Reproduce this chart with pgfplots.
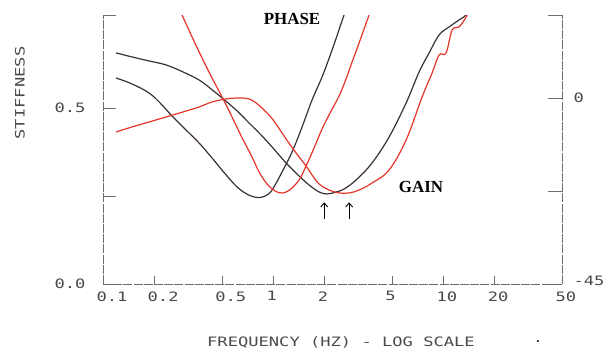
\documentclass[border=0pt]{standalone}
\usepackage{pgfplots}
\pgfplotsset{compat=1.18}
\usetikzlibrary{arrows.meta}
\usepackage{fontspec}
\setmainfont{Liberation Serif}
\newfontfamily\plotfont[FakeStretch=1.32]{DejaVu Sans Mono}
\definecolor{inkblack}{HTML}{3A3035}
\definecolor{inkred}{HTML}{E4352B}
\definecolor{axgray}{HTML}{6E6E6E}
\definecolor{labgray}{HTML}{4A4A4A}
\newcommand\pf{\plotfont\fontsize{13}{15}\selectfont\color{labgray}}
\begin{document}
\begin{tikzpicture}
% ---------- main axis: data, x ticks ----------
\begin{axis}[
  name=A,
  scale only axis, width=459bp, height=269bp,
  xmode=log, xmin=0.1, xmax=50, ymin=0, ymax=0.764,
  axis x line*=bottom, axis y line*=left,
  axis line style={axgray, line width=0.6bp, dash pattern=on 9bp off 1.2bp, -},
  xtick={0.1,0.2,0.5,1,2,5,10,20,50},
  xticklabels={0.1,0.2,0.5,1,2,5,10,20,50},
  ytick=\empty,
  tick align=inside,
  major tick length=8bp,
  tick style={axgray, line width=0.7bp},
  /pgf/number format/assume math mode=true,
  xticklabel style={font=\pf, anchor=north west, xshift=-10bp, yshift=-4bp},
  xlabel={FREQUENCY (HZ) - LOG SCALE},
  xlabel style={font=\pf, at={(axis description cs:0.5185,-0.2156)}, anchor=center},
  ylabel={STIFFNESS},
  ylabel style={font=\pf, at={(axis description cs:-0.181,0.71)}, anchor=center},
  clip=true,
]
\coordinate (SW) at (rel axis cs:0,0);
% black gain
\addplot[inkblack, line width=1.2bp, smooth, tension=0.6] coordinates {
(0.1193,0.6563)(0.1481,0.6449)(0.1865,0.6335)(0.2348,0.6222)(0.2955,0.6023)
(0.3671,0.5795)(0.4318,0.5540)(0.5012,0.5284)(0.6060,0.4943)(0.7225,0.4574)
(0.8500,0.4233)(0.9865,0.3892)(1.1925,0.3438)(1.4223,0.3068)(1.6284,0.2813)
(1.8649,0.2614)(2.0780,0.2557)(2.3481,0.2614)(2.6157,0.2699)(3.0782,0.2955)
(3.8220,0.3438)(4.8124,0.4176)(6.0589,0.5142)(7.2250,0.6023)(8.2730,0.6563)
(9.4730,0.7074)(10.846,0.7301)(12.418,0.7500)(13.656,0.7642)(14.2,0.785)};
% black phase
\addplot[inkblack, line width=1.2bp, smooth, tension=0.6] coordinates {
(0.1193,0.5852)(0.1481,0.5682)(0.1865,0.5426)(0.2194,0.5114)(0.2545,0.4773)
(0.3078,0.4375)(0.3671,0.4006)(0.4377,0.3580)(0.5120,0.3182)(0.6060,0.2784)
(0.7002,0.2557)(0.8053,0.2457)(0.9000,0.2500)(0.9865,0.2670)
(1.1297,0.3182)(1.2937,0.3750)(1.4812,0.4460)(1.6958,0.5227)(1.9420,0.5881)
(2.2243,0.6648)(2.6157,0.7642)(2.75,0.79)};
% red gain
\addplot[inkred, line width=1.2bp, smooth, tension=0.6] coordinates {
(0.1193,0.4318)(0.1481,0.4460)(0.1865,0.4602)(0.2348,0.4744)(0.2955,0.4886)
(0.3671,0.5028)(0.4377,0.5170)(0.5292,0.5256)(0.6310,0.5284)(0.7225,0.5256)
(0.7943,0.5142)(0.8852,0.4943)(0.9473,0.4801)(1.0415,0.4545)(1.1925,0.4119)
(1.3656,0.3722)(1.5637,0.3352)(1.6958,0.3097)(1.8649,0.2841)(2.1350,0.2670)
(2.4446,0.2585)(2.8000,0.2585)(3.2058,0.2670)(3.8220,0.2869)(4.8124,0.3239)
(6.0589,0.4091)(7.5240,0.5313)(8.6170,0.5994)(9.4730,0.6506)(10.414,0.6563)
(11.295,0.7216)(12.418,0.7301)(13.656,0.7585)(14.22,0.778)(14.6,0.80)};
% red phase
\addplot[inkred, line width=1.2bp, smooth, tension=0.6] coordinates {
(0.2725,0.7926)(0.2915,0.7642)(0.3339,0.7017)(0.3823,0.6420)(0.4377,0.5852)
(0.5012,0.5313)(0.5740,0.4744)(0.6580,0.4148)(0.7524,0.3608)(0.8273,0.3182)
(0.9220,0.2841)(1.0275,0.2642)(1.1297,0.2585)(1.2515,0.2670)(1.4223,0.2955)
(1.5637,0.3352)(1.7424,0.3864)(1.9420,0.4403)(2.1643,0.4858)(2.4446,0.5341)
(2.6878,0.5824)(2.9160,0.6307)(3.2058,0.6847)(3.6703,0.7642)(3.822,0.787)};
\end{axis}
% ---------- left y ticks + annotations ----------
\begin{axis}[
  scale only axis, width=459bp, height=269bp,
  xmode=log, xmin=0.1, xmax=50, ymin=0, ymax=0.764,
  axis x line=none, axis y line*=left,
  axis line style={draw=none},
  ytick={0,0.25,0.5,0.764}, yticklabels={0.0,,0.5,},
  tick align=inside, major tick length=13bp,
  tick style={axgray, line width=0.7bp},
  /pgf/number format/assume math mode=true,
  yticklabel style={font=\pf, xshift=-14bp},
  clip=false,
]
\node[font=\bfseries\fontsize{17}{19}\selectfont, text=black] at (axis description cs:0.4118,0.985) {PHASE};
\node[font=\bfseries\fontsize{17}{19}\selectfont, text=black] at (axis description cs:0.693,0.36) {GAIN};
\draw[black, line width=0.9bp, -{Straight Barb[length=4bp,width=7bp]}] (axis cs:2.0,0.186) -- (axis cs:2.0,0.232);
\draw[black, line width=0.9bp, -{Straight Barb[length=4bp,width=7bp]}] (axis cs:2.8,0.186) -- (axis cs:2.8,0.232);
\node[font=\pf] at (axis description cs:0.948,-0.2156) {.};
\end{axis}
% ---------- right axis ----------
\begin{axis}[
  scale only axis, width=459bp, height=269bp,
  xmode=log, xmin=0.1, xmax=50, ymin=-45, ymax=20.1,
  axis x line=none, axis y line*=right,
  axis line style={axgray, line width=0.6bp, dash pattern=on 9bp off 1.2bp, -},
  ytick={-45,-22.5,0,20.1}, yticklabels={\raisebox{7bp}{-45},,0,},
  tick align=inside, major tick length=14bp,
  tick style={axgray, line width=0.7bp},
  /pgf/number format/assume math mode=true,
  yticklabel style={font=\pf, xshift=8bp},
]
\end{axis}
\pgfresetboundingbox
\path (SW) ++(-103bp,-65bp) rectangle ++(610bp,349bp);
\end{tikzpicture}
\end{document}
